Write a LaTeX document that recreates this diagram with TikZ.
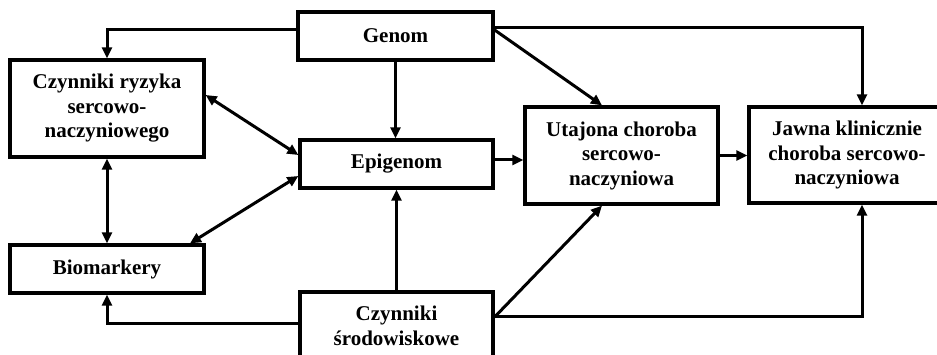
\documentclass[tikz,border=0pt]{standalone}
\usepackage{fontspec}
\setmainfont{Liberation Serif}
\usetikzlibrary{arrows.meta}
\begin{document}
\begin{tikzpicture}[x=1pt,y=-1pt,
  box/.style={draw, line width=3.3pt, rectangle, align=center, inner sep=0pt,
    font=\fontsize{21}{24.5}\selectfont\bfseries},
  arr/.style={line width=3pt, -{Triangle[length=11pt,width=10pt]}},
  darr/.style={line width=3pt, {Triangle[length=11pt,width=10pt]}-{Triangle[length=11pt,width=10pt]}}]
\useasboundingbox (0,0) rectangle (937,355);
\clip (0,0) rectangle (937,355);

% boxes
\node[box, minimum width=194pt, minimum height=97pt] (ryz) at (107,108.5)
  {Czynniki ryzyka\\sercowo-\\naczyniowego};
\node[box, minimum width=195pt, minimum height=48pt] (gen) at (395.5,36) {Genom};
\node[box, minimum width=193pt, minimum height=48pt] (epi) at (396.5,164) {Epigenom};
\node[box, minimum width=193pt, minimum height=97pt] (uta) at (621.5,155.5)
  {Utajona choroba\\sercowo-\\naczyniowa};
\node[box, minimum width=196pt, minimum height=96pt] (jaw) at (847,155)
  {Jawna klinicznie\\choroba sercowo-\\naczyniowa};
\node[box, minimum width=194pt, minimum height=48pt] (bio) at (107,269) {Biomarkery};
\node[box, minimum width=193pt, minimum height=68pt] (env) at (396.5,326)
  {Czynniki\\środowiskowe};

% connectors from Genom
\draw[arr] ([yshift=6pt]gen.west) -| (ryz.north);
\draw[arr] ([yshift=8pt]gen.east) -| ([xshift=15pt]jaw.north);
\draw[arr] (gen.south) -- (gen.south |- epi.north);
\draw[arr] ([yshift=6pt]gen.east) -- ([xshift=-19.5pt]uta.north);

% mutual links
\draw[darr] ([yshift=13.5pt]ryz.east) -- ([yshift=9pt]epi.west);
\draw[darr] ([xshift=83pt]bio.north) -- ([yshift=-12pt]epi.west);
\draw[darr] (ryz.south) -- (bio.north);

% disease progression
\draw[arr] ([yshift=4pt]epi.east) -- ([yshift=4pt]epi.east -| uta.west);
\draw[arr] (uta.east) -- (uta.east -| jaw.west);

% connectors from environmental factors
\draw[arr] (env.north) -- (env.north |- epi.south);
\draw[arr] ([yshift=2pt]env.west) -| (bio.south);
\draw[arr] ([yshift=9pt]env.east) -- ([xshift=-19.5pt]uta.south);
\draw[arr] ([yshift=9pt]env.east) -| ([xshift=15pt]jaw.south);
\end{tikzpicture}
\end{document}
